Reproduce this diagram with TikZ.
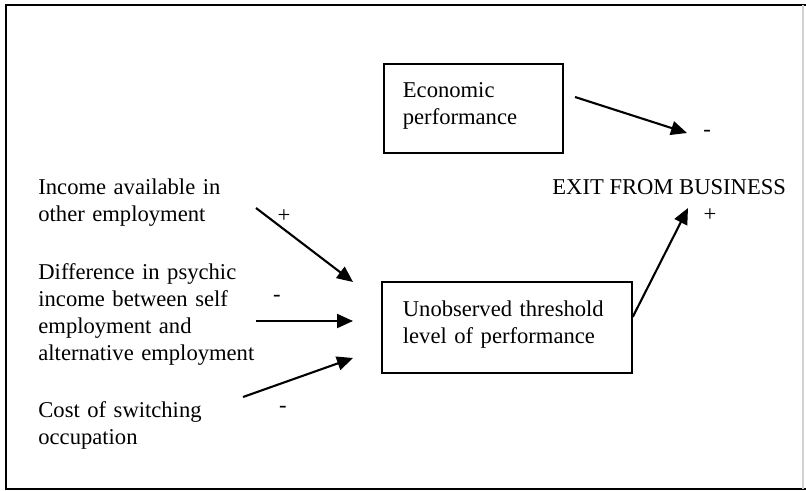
\documentclass[tikz,border=0pt]{standalone}
\usepackage{fontspec}
\setmainfont{Liberation Serif}
\usetikzlibrary{arrows.meta,calc}

\begin{document}
\begin{tikzpicture}[x=0.5pt,y=-0.5pt,
  txt/.style={font=\fontsize{11.3}{13.5}\selectfont, inner sep=0pt,
              align=left, text width=130pt, anchor=base west},
  sign/.style={font=\fontsize{11.3}{13.5}\selectfont, inner sep=0pt},
  box/.style={draw, line width=0.9pt, font=\fontsize{11.3}{13.5}\selectfont,
              align=left, inner ysep=0pt, anchor=base west},
  link/.style={line width=1.05pt, -{Triangle[length=8pt,width=7pt]}}]
  \useasboundingbox (0,0) rectangle (806,491);

  % outer frame
  \draw[line width=1pt] (806,5) -- (6,5) -- (6,489) -- (806,489);
  \draw[gray!35, line width=0.6pt] (803,5) -- (803,489);

  % boxes
  \node[box, inner xsep=9.5pt, text width=70.5pt, text height=17pt, text depth=27.5pt]
    (econ) at (383,98) {Economic\\performance};
  \node[box, inner xsep=10.5pt, text width=104pt, text height=17pt, text depth=28.5pt]
    (thr) at (381,316) {Unobserved threshold\\level of performance};

  % outcome
  \node[sign, anchor=base west] (exit) at (552,195) {EXIT FROM BUSINESS};

  % determinants
  \node[txt] (inc) at (38,195) {Income available in\\other employment};
  \node[txt] (psy) at (38,279) {Difference in psychic\\income between self\\employment and\\alternative employment};
  \node[txt] (cost) at (38,417) {Cost of switching\\occupation};

  % signs
  \node[sign] (sEcon) at (707,133) {-};
  \node[sign] (sThr) at (710,215) {+};
  \node[sign] (sInc) at (284,216) {+};
  \node[sign] (sPsy) at (277,298) {-};
  \node[sign] (sCost) at (283,409) {-};

  % connector end points
  \coordinate (econA) at (575,97);
  \coordinate (econB) at (687,133);
  \coordinate (thrA) at ($(thr.north east)!0.385!(thr.south east)$);
  \coordinate (exitB) at (688,208);
  \coordinate (incA) at (256,208);
  \coordinate (incB) at (353,282);
  \coordinate (psyA) at (256,321);
  \coordinate (psyB) at (353,321);
  \coordinate (costA) at (243,397);
  \coordinate (costB) at (353,358);

  % connectors
  \draw[link] (econA) -- (econB);
  \draw[link] (thrA) -- (exitB);
  \draw[link] (incA) -- (incB);
  \draw[link] (psyA) -- (psyB);
  \draw[link] (costA) -- (costB);
\end{tikzpicture}
\end{document}
